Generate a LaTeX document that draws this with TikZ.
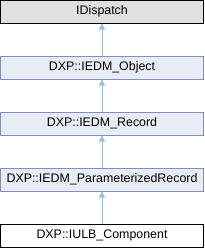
\documentclass[tikz,border=0pt]{standalone}
\usepackage{fontspec}
\setmainfont{Liberation Sans}
\usetikzlibrary{arrows.meta}
\definecolor{boxfill}{HTML}{E8ECF6}
\definecolor{boxline}{HTML}{7C90C4}
\definecolor{topfill}{HTML}{E0E0E0}
\definecolor{arrowcol}{HTML}{93C2E4}
\tikzset{
  cls/.style={draw=boxline,fill=boxfill,minimum width=203pt,minimum height=23pt,
    inner sep=0pt,font=\fontsize{12.4}{14}\selectfont,line width=0.8pt},
  inh/.style={draw=arrowcol,line width=0.9pt,-{Triangle[length=6pt,width=6pt,fill=arrowcol]}}
}
\begin{document}
\begin{tikzpicture}[x=1pt,y=-1pt]
\useasboundingbox (0,0) rectangle (204,248);
\node[cls,draw=black,fill=topfill] (disp) at (102,11.7) {IDispatch};
\node[cls] (obj) at (102,67.7) {DXP::IEDM\_Object};
\node[cls] (rec) at (102,123.7) {DXP::IEDM\_Record};
\node[cls] (prec) at (102,179.7) {DXP::IEDM\_ParameterizedRecord};
\node[cls,draw=black,fill=white] (comp) at (102,235.7) {DXP::IULB\_Component};

\draw[inh] (obj) -- (disp);
\draw[inh] (rec) -- (obj);
\draw[inh] (prec) -- (rec);
\draw[inh] (comp) -- (prec);
\end{tikzpicture}
\end{document}
